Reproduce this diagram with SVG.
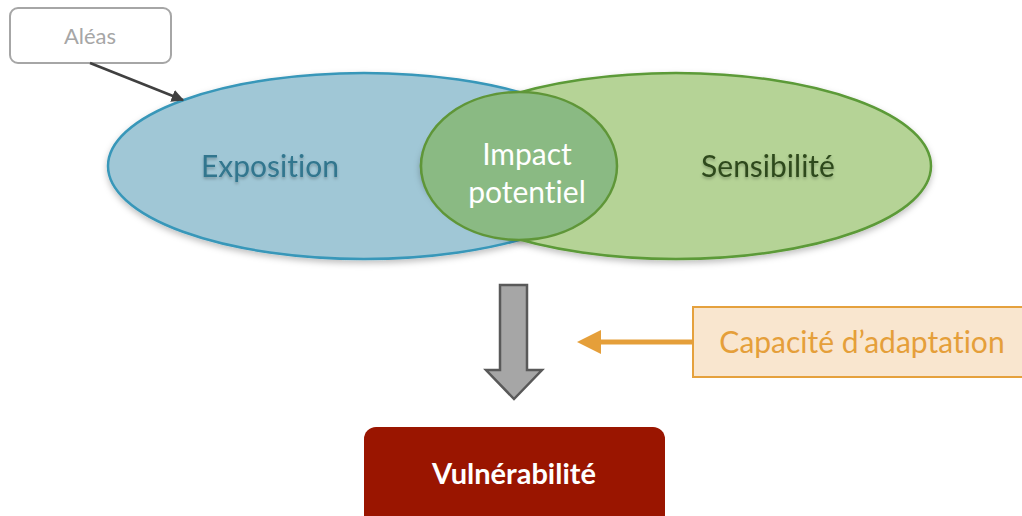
<svg xmlns="http://www.w3.org/2000/svg" width="1022" height="516" viewBox="0 0 1022 516">
<style>
text{font-family:Lato,"Open Sans","Liberation Sans",sans-serif;text-anchor:middle;font-variant-ligatures:none}
.big{font-size:30px}
</style>
<defs>
<filter id="sh" x="-10%" y="-10%" width="120%" height="130%">
<feDropShadow dx="0" dy="3" stdDeviation="3" flood-color="#000" flood-opacity="0.25"/>
</filter>
<filter id="tsh" x="-10%" y="-20%" width="120%" height="150%">
<feDropShadow dx="0" dy="2" stdDeviation="1.5" flood-color="#000" flood-opacity="0.25"/>
</filter>
<marker id="ah" viewBox="0 0 10 10" refX="9" refY="5" markerWidth="5" markerHeight="5" orient="auto" markerUnits="strokeWidth">
<path d="M0,0 L10,5 L0,10 Z" fill="#404040"/>
</marker>
</defs>
<g id="exposition">
<ellipse cx="364" cy="166" rx="256" ry="93" fill="#a0c7d6" stroke="#3797b9" stroke-width="2.5" filter="url(#sh)"/>
<text x="270" y="177" class="big" fill="#31768e" filter="url(#tsh)">Exposition</text>
</g>
<g id="sensibilite">
<ellipse cx="676" cy="166" rx="255" ry="93" fill="#b5d396" stroke="#5b9a37" stroke-width="2.5" filter="url(#sh)"/>
<text x="768" y="177" class="big" fill="#2f4a1c" filter="url(#tsh)">Sensibilité</text>
</g>
<g id="impact">
<ellipse cx="519" cy="166" rx="98" ry="74" fill="#8aba83" stroke="#5f9638" stroke-width="2.5"/>
<text x="527" y="165" class="big" fill="#ffffff">Impact</text>
<text x="527" y="203" class="big" fill="#ffffff">potentiel</text>
</g>
<g id="aleas">
<rect x="10" y="8" width="161" height="55" rx="8" fill="#ffffff" stroke="#a6a6a6" stroke-width="2"/>
<text x="90" y="44" font-size="22" fill="#a6a6a6">Aléas</text>
</g>
<g id="capacite">
<rect x="693" y="307" width="335" height="70" fill="#f9e6cf" stroke="#e5a13d" stroke-width="2"/>
<text x="862" y="353" class="big" fill="#e59f3a">Capacité d’adaptation</text>
</g>
<g id="vulnerabilite">
<rect x="364" y="427" width="301" height="100" rx="12" fill="#9a1500"/>
<text x="514" y="484" font-size="29" font-weight="bold" fill="#ffffff">Vulnérabilité</text>
</g>
<g id="connectors">
<line x1="90" y1="63" x2="183" y2="100" stroke="#404040" stroke-width="2.5" marker-end="url(#ah)"/>
<path d="M500,285 H527 V370 H542 L514,399 L486,370 H500 Z" fill="#a6a6a6" stroke="#595959" stroke-width="2.5" stroke-linejoin="miter"/>
<line x1="693" y1="342" x2="598" y2="342" stroke="#e59f3a" stroke-width="5"/>
<path d="M577,342 L601,330 L601,354 Z" fill="#e59f3a"/>
</g>
</svg>
